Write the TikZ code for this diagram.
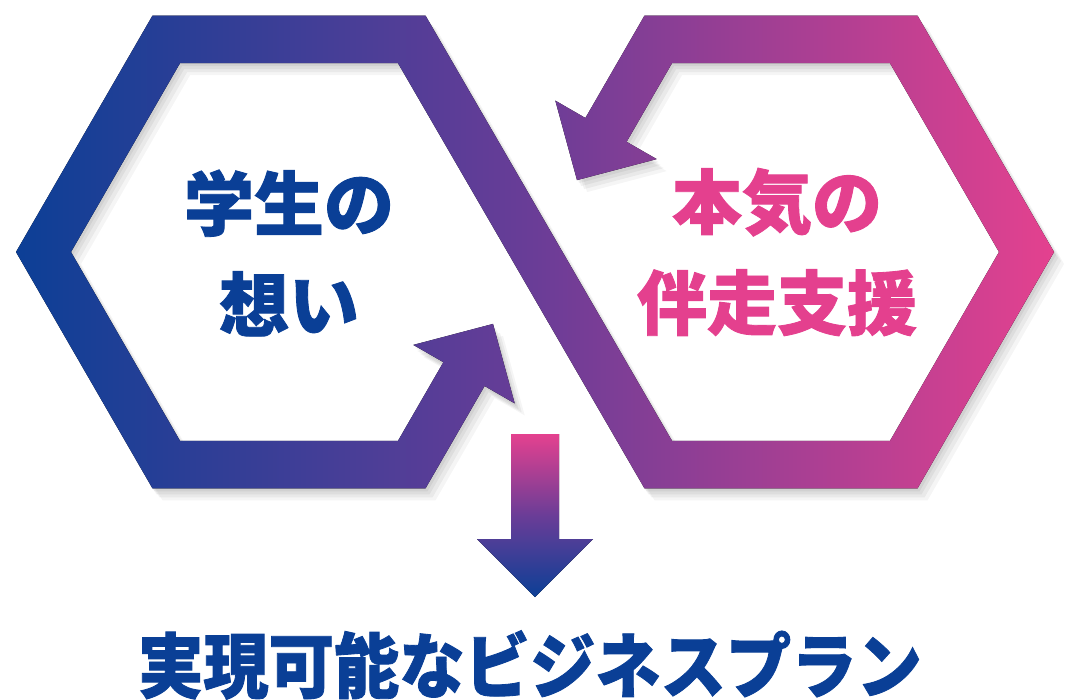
\documentclass[tikz,border=0pt]{standalone}
\usepackage{fontspec}
\newfontfamily\jpfont{Noto Sans CJK JP}[BoldFeatures={FakeBold=1.2}]
\definecolor{infblue}{HTML}{0C3F96}
\definecolor{infpurple}{HTML}{6A3D97}
\definecolor{infpink}{HTML}{E4418F}
\definecolor{txtblue}{HTML}{0A3F96}
\definecolor{txtpink}{HTML}{E4408E}
\begin{document}
\begin{tikzpicture}[x=1pt,y=-1pt,
  hexlabel/.style={font=\jpfont\bfseries\fontsize{70}{101}\selectfont,align=center,inner sep=0pt},
  planlabel/.style={font=\jpfont\bfseries\fontsize{71}{80}\selectfont,inner sep=0pt,xscale=0.92}]
 \useasboundingbox (0,0) rectangle (1086,699);
 % band of the two hexagons
 \fill[preaction={fill=black,opacity=.05,transform canvas={shift={(2,3)}}},
       preaction={fill=black,opacity=.05,transform canvas={shift={(4,6)}}},
       preaction={fill=black,opacity=.05,transform canvas={shift={(7,9)}}},
       preaction={fill=black,opacity=.04,transform canvas={shift={(10,12)}}},
       left color=infblue,right color=infpink,middle color=infpurple]
  (152.5,15.6)--(425.5,15.6)--(672,440.8)--(890,440.8)--(999,252)--(890,63.2)--(672,63.2)
  --(626.6,141.8)--(656.7,159.1)--(577,180.1)--(555.3,100.6)--(585.4,118)
  --(644.5,15.6)--(917.5,15.6)--(1054,252)--(917.5,488.4)--(644.5,488.4)
  --(398,63.2)--(180,63.2)--(71,252)--(180,440.8)--(398,440.8)
  --(443.4,362.2)--(413.3,344.9)--(493,323.9)--(514.7,403.4)--(484.6,386)
  --(425.5,488.4)--(152.5,488.4)--(16,252)--cycle;
 % arrow down
 \fill[top color=infpink,bottom color=infblue,middle color=infpurple]
  (511,434)--(559,434)--(559,539)--(593,539)--(535,597)--(477,539)--(511,539)--cycle;
 \node[hexlabel,text=txtblue] (student) at (289,253) {学生の\\想い};
 \node[hexlabel,text=txtpink] (support) at (777,252) {本気の\\伴走支援};
 \node[planlabel,text=txtblue] (plan) at (530,665) {実現可能なビジネスプラン};
\end{tikzpicture}
\end{document}
